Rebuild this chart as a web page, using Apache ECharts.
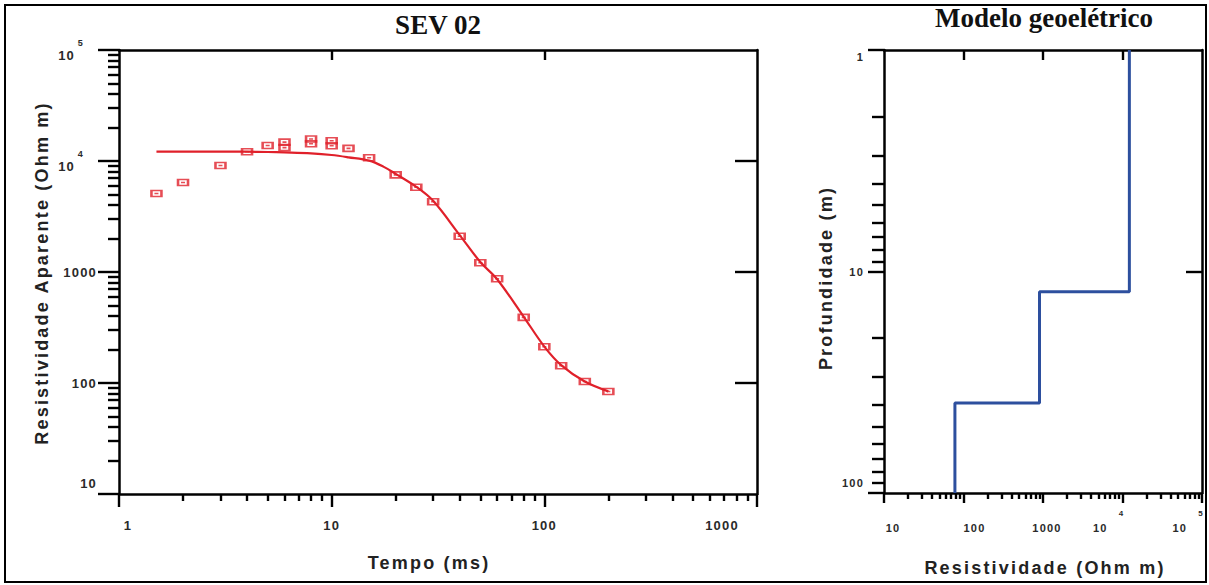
<!DOCTYPE html>
<html>
<head>
<meta charset="utf-8">
<script src="https://cdn.jsdelivr.net/npm/echarts@6/dist/echarts.min.js"></script>
<style>
html,body{margin:0;padding:0;background:#fff}
#c{width:1209px;height:585px}
#c text{letter-spacing:1.2px}
#c text[style*="Serif"]{letter-spacing:0}
#c text[style*="18px"]{letter-spacing:2.2px}
</style>
</head>
<body>
<div id="c"></div>
<script>
// ---- Data: SEV 02 apparent resistivity (observed) ----
const obsTime = [1.5, 2, 3, 4, 5, 6, 6, 8, 8, 10, 10, 12, 15, 20, 25, 30, 40, 50, 60, 80, 100, 120, 155, 200];
const obsRho  = [5100, 6400, 9100, 12100, 13800, 14800, 13200, 15800, 14300, 15200, 13700, 13000, 10700, 7500, 5800, 4300, 2100, 1210, 870, 390, 212, 143, 103, 84];

// ---- Fitted model curve ----
const fitTime = [1.5, 2, 3, 4, 5, 6, 8, 10, 12, 15, 17.5, 20, 25, 30, 40, 50, 60, 80, 100, 120, 155, 200];
const fitRho  = [12150, 12150, 12150, 12130, 12050, 11950, 11720, 11330, 10800, 10070, 8900, 7650, 5850, 4380, 2150, 1230, 860, 395, 213, 145, 103, 84];

// ---- Geoelectric model (layers) ----
const layerRho = [12200, 904, 78];        // Ohm m
const layerBottomDepth = [12.35, 39.2];   // m (interfaces)
const depthTop = 1, depthBottom = 100;

// ---- Tick values & labels ----
const timeTicks = [1, 10, 100, 1000];
const timeTickLabels = ['1', '10', '100', '1000'];
const rhoTicks = [10, 100, 1000, 10000, 100000];
const rhoTickLabels = ['10', '100', '1000', ['10', '4'], ['10', '5']];
const resTicks = [10, 100, 1000, 10000, 100000];
const resTickLabels = ['10', '100', '1000', ['10', '4'], ['10', '5']];
const depthTicks = [1, 10, 100];
const depthTickLabels = ['1', '10', '100'];

// ---- helpers ----
function minorTicks(lo, hi) {
  const out = [];
  for (let d = lo; d < hi; d *= 10) for (let k = 2; k <= 9; k++) out.push(d * k);
  return out;
}
function idx(ticks, v) {
  let best = 0, bd = Infinity;
  ticks.forEach((t, i) => { const dd = Math.abs(Math.log10(t) - Math.log10(v)); if (dd < bd) { bd = dd; best = i; } });
  return best;
}
const SANS = 'Liberation Sans';
const SERIF = 'Liberation Serif';
const LBL = '#2a2a2a';
const RED = '#e0202a';
const BLUE = '#2d4f9e';
const AXW = 2.5;
const line = { show: true, lineStyle: { color: '#000', width: AXW } };
const noLine = { show: false };
function tick(len, vals, inside) {
  return { show: true, inside: !!inside, length: len, customValues: vals, lineStyle: { color: '#000', width: 2.4 } };
}
function baseAxis(o) {
  return Object.assign({
    type: 'log', logBase: 10, splitLine: { show: false }, minorTick: { show: false },
    minorSplitLine: { show: false }, axisLabel: { show: false }, silent: true, axisPointer: { show: false }
  }, o);
}
function txt(size, extra) {
  return Object.assign({ fontSize: size, fontWeight: 'bold', fontFamily: SANS, color: LBL }, extra || {});
}

const leftXRich = {
  l: txt(13, { padding: [0, 0, 0, 18] }),
  m: txt(13),
  r: txt(13, { padding: [0, 70, 0, 0] })
};
const leftYRich = {
  n: txt(13),
  lo: txt(13, { padding: [0, 0, 22, 0] }),
  b: txt(13, { lineHeight: 24, verticalAlign: 'bottom' }),
  s: txt(9, { verticalAlign: 'top', padding: [0, 13, 0, 4] })
};
const rightXRich = {
  p0: txt(11, { lineHeight: 24, verticalAlign: 'bottom', padding: [0, 0, 0, 18] }),
  p1: txt(11, { lineHeight: 24, verticalAlign: 'bottom', padding: [0, 0, 0, 22] }),
  p2: txt(11, { lineHeight: 24, verticalAlign: 'bottom', padding: [0, 0, 0, 8] }),
  b: txt(11, { lineHeight: 24, verticalAlign: 'bottom' }),
  s: txt(8, { verticalAlign: 'top', padding: [0, 27, 0, 13] })
};
const rightYRich = {
  t: txt(11, { padding: [14, 0, 0, 0] }),
  n: txt(11),
  u: txt(11, { padding: [0, 0, 20, 0] })
};

const stepData = [];
(function () {
  let top = depthTop;
  layerRho.forEach((r, i) => {
    const bot = i < layerBottomDepth.length ? layerBottomDepth[i] : depthBottom;
    stepData.push([r, top], [r, bot]);
    top = bot;
  });
})();

const option = {
  animation: false,
  backgroundColor: '#fff',
  grid: [
    { left: 119, top: 50, width: 638, height: 444, outerBoundsMode: 'none', containLabel: false },
    { left: 884, top: 50, width: 318, height: 443, outerBoundsMode: 'none', containLabel: false }
  ],
  xAxis: [
    baseAxis({ gridIndex: 0, position: 'bottom', min: 1, max: 1000, axisLine: line, axisTick: tick(13, timeTicks),
      axisLabel: { show: true, customValues: timeTicks, margin: 25, rich: leftXRich,
        formatter: v => { const i = idx(timeTicks, v); const s = i === 0 ? 'l' : (i === timeTicks.length - 1 ? 'r' : 'm'); return '{' + s + '|' + timeTickLabels[i] + '}'; } } }),
    baseAxis({ gridIndex: 0, position: 'bottom', min: 1, max: 1000, axisLine: noLine, axisTick: tick(7, minorTicks(1, 1000)) }),
    baseAxis({ gridIndex: 0, position: 'top', min: 1, max: 1000, axisLine: line, axisTick: tick(10, [10, 100], true) }),
    baseAxis({ gridIndex: 1, position: 'bottom', min: 10, max: 100000, axisLine: line, axisTick: tick(10, resTicks),
      axisLabel: { show: true, customValues: resTicks, margin: 16, rich: rightXRich,
        formatter: v => { const i = idx(resTicks, v); const L = resTickLabels[i]; if (Array.isArray(L)) return '{b|' + L[0] + '}{s|' + L[1] + '}'; return '{p' + i + '|' + L + '}'; } } }),
    baseAxis({ gridIndex: 1, position: 'bottom', min: 10, max: 100000, axisLine: noLine, axisTick: tick(6, minorTicks(10, 100000)) }),
    baseAxis({ gridIndex: 1, position: 'top', min: 10, max: 100000, axisLine: line, axisTick: tick(10, [100, 1000, 10000], true) })
  ],
  yAxis: [
    baseAxis({ gridIndex: 0, position: 'left', min: 10, max: 100000, axisLine: line, axisTick: tick(21, rhoTicks),
      axisLabel: { show: true, customValues: rhoTicks, margin: 22, rich: leftYRich,
        formatter: v => { const i = idx(rhoTicks, v); const L = rhoTickLabels[i]; if (Array.isArray(L)) return '{b|' + L[0] + '}{s|' + L[1] + '}'; return '{' + (i === 0 ? 'lo' : 'n') + '|' + L + '}'; } } }),
    baseAxis({ gridIndex: 0, position: 'left', min: 10, max: 100000, axisLine: noLine, axisTick: tick(11, minorTicks(10, 100000)) }),
    baseAxis({ gridIndex: 0, position: 'right', min: 10, max: 100000, axisLine: line, axisTick: tick(22, [100, 1000, 10000], true) }),
    baseAxis({ gridIndex: 1, position: 'left', inverse: true, min: 1, max: 100, axisLine: line, axisTick: tick(16, depthTicks),
      axisLabel: { show: true, customValues: depthTicks, margin: 20, rich: rightYRich,
        formatter: v => { const i = idx(depthTicks, v); const s = i === 0 ? 't' : (i === depthTicks.length - 1 ? 'u' : 'n'); return '{' + s + '|' + depthTickLabels[i] + '}'; } } }),
    baseAxis({ gridIndex: 1, position: 'left', inverse: true, min: 1, max: 100, axisLine: noLine, axisTick: tick(12, minorTicks(1, 100)) }),
    baseAxis({ gridIndex: 1, position: 'right', inverse: true, min: 1, max: 100, axisLine: line, axisTick: tick(16, [10], true) })
  ],
  series: [
    { type: 'line', name: 'ajuste', xAxisIndex: 0, yAxisIndex: 0, smooth: 0.35, showSymbol: false, silent: true,
      lineStyle: { color: RED, width: 2.2 }, data: fitTime.map((t, i) => [t, fitRho[i]]), z: 2 },
    { type: 'scatter', name: 'observado', xAxisIndex: 0, yAxisIndex: 0, silent: true,
      symbol: 'path://M0,0L10,0L10,6L0,6Z M3,3L7,3', symbolSize: [10, 6],
      itemStyle: { color: 'rgba(255,255,255,0)', borderColor: RED, borderWidth: 2 },
      data: obsTime.map((t, i) => [t, obsRho[i]]), z: 3 },
    { type: 'line', name: 'modelo', xAxisIndex: 3, yAxisIndex: 3, showSymbol: false, silent: true,
      lineStyle: { color: BLUE, width: 3 }, data: stepData, z: 2 }
  ],
  graphic: [
    { type: 'rect', shape: { x: 5, y: 5, width: 1201, height: 577 }, style: { fill: 'none', stroke: '#000', lineWidth: 2 }, silent: true, z: -1 },
    { type: 'text', x: 438, y: 25, style: { text: 'SEV 02', fontFamily: SERIF, fontSize: 27, fontWeight: 'bold', fill: '#111', align: 'center', verticalAlign: 'middle' } },
    { type: 'text', x: 1044, y: 18, style: { text: 'Modelo geoelétrico', fontFamily: SERIF, fontSize: 27, fontWeight: 'bold', fill: '#111', align: 'center', verticalAlign: 'middle' } },
    { type: 'text', x: 42, y: 273, rotation: Math.PI / 2, style: { text: 'Resistividade Aparente (Ohm m)', fontFamily: SANS, fontSize: 18, fontWeight: 'bold', fill: '#222', align: 'center', verticalAlign: 'middle' } },
    { type: 'text', x: 429, y: 563, style: { text: 'Tempo (ms)', fontFamily: SANS, fontSize: 18, fontWeight: 'bold', fill: '#222', align: 'center', verticalAlign: 'middle' } },
    { type: 'text', x: 826, y: 278, rotation: Math.PI / 2, style: { text: 'Profundidade (m)', fontFamily: SANS, fontSize: 18, fontWeight: 'bold', fill: '#222', align: 'center', verticalAlign: 'middle' } },
    { type: 'text', x: 1045, y: 568, style: { text: 'Resistividade (Ohm m)', fontFamily: SANS, fontSize: 18, fontWeight: 'bold', fill: '#222', align: 'center', verticalAlign: 'middle' } }
  ]
};

const chart = echarts.init(document.getElementById('c'), null, { renderer: 'svg', width: 1209, height: 585 });
chart.setOption(option);
</script>
</body>
</html>
